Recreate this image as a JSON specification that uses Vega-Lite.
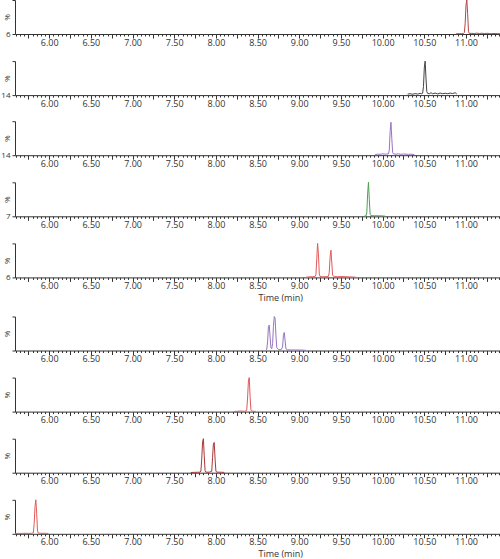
{
  "$schema": "https://vega.github.io/schema/vega-lite/v6.json",
  "padding": {"left": 0, "top": -2, "right": 0, "bottom": 0},
  "spacing": 12.1,
  "config": {
    "view": {"stroke": null},
    "axis": {"grid": false, "domainColor": "#333333", "tickColor": "#333333", "labelColor": "#333333", "labelFont": "Open Sans", "labelFontSize": 9, "titleFont": "Open Sans", "titleFontSize": 9, "titleFontWeight": "normal", "titleColor": "#333333", "domainWidth": 1, "tickWidth": 1},
    "axisX": {"tickCount": 116, "labelOverlap": false, "labelFlush": false, "labelPadding": 0, "titlePadding": 2.6, "titleAnchor": "middle", "titleAlign": "left"},
    "axisY": {"values": [0, 10, 20, 30, 40, 50, 60, 70, 80, 90, 100], "tickSize": 3, "labelPadding": 2, "labelOverlap": false, "labelFlush": false, "labelFontSize": {"condition": {"test": "datum.value == 0", "value": 8}, "value": 0}, "titleFontSize": 8, "titleX": -4, "titleY": 17, "titleAngle": -90}
  },
  "datasets": {
    "p1": [{"t":10.88,"v":0.5},{"t":10.92,"v":1},{"t":10.95,"v":0.8},{"t":10.97,"v":1.5},{"t":10.98,"v":4},{"t":10.99,"v":30},{"t":11.0,"v":85},{"t":11.01,"v":100},{"t":11.02,"v":60},{"t":11.03,"v":8},{"t":11.04,"v":1.5},{"t":11.07,"v":2},{"t":11.1,"v":1.2},{"t":11.13,"v":2.5},{"t":11.16,"v":1.5},{"t":11.19,"v":2.2},{"t":11.22,"v":1.4},{"t":11.25,"v":2},{"t":11.28,"v":1.5},{"t":11.31,"v":1},{"t":11.35,"v":1.5},{"t":11.38,"v":1},{"t":11.42,"v":0.8}],
    "p2": [{"t":10.3,"v":3},{"t":10.33,"v":4},{"t":10.36,"v":2.5},{"t":10.39,"v":4.5},{"t":10.42,"v":3},{"t":10.45,"v":5},{"t":10.47,"v":3.5},{"t":10.48,"v":6},{"t":10.49,"v":25},{"t":10.5,"v":80},{"t":10.51,"v":100},{"t":10.52,"v":50},{"t":10.53,"v":10},{"t":10.54,"v":5},{"t":10.56,"v":4},{"t":10.58,"v":7},{"t":10.6,"v":4},{"t":10.63,"v":6},{"t":10.66,"v":3.5},{"t":10.69,"v":6},{"t":10.72,"v":4},{"t":10.75,"v":5.5},{"t":10.78,"v":4},{"t":10.81,"v":6},{"t":10.84,"v":4.5},{"t":10.87,"v":7},{"t":10.89,"v":3}],
    "p3": [{"t":9.91,"v":2},{"t":9.94,"v":3},{"t":9.97,"v":2.5},{"t":10.0,"v":4},{"t":10.03,"v":3},{"t":10.05,"v":3.5},{"t":10.07,"v":4},{"t":10.08,"v":15},{"t":10.09,"v":70},{"t":10.1,"v":97},{"t":10.11,"v":50},{"t":10.12,"v":8},{"t":10.13,"v":4},{"t":10.16,"v":3},{"t":10.19,"v":4},{"t":10.22,"v":2.5},{"t":10.25,"v":3.5},{"t":10.28,"v":3},{"t":10.31,"v":2.5},{"t":10.34,"v":3},{"t":10.38,"v":2}],
    "p4": [{"t":9.78,"v":0.5},{"t":9.8,"v":1},{"t":9.81,"v":10},{"t":9.82,"v":65},{"t":9.83,"v":100},{"t":9.84,"v":50},{"t":9.85,"v":6},{"t":9.86,"v":2},{"t":9.9,"v":1.5},{"t":9.95,"v":1.5},{"t":10.0,"v":1},{"t":10.03,"v":0.5}],
    "p5": [{"t":9.08,"v":0.5},{"t":9.12,"v":1.5},{"t":9.16,"v":2},{"t":9.19,"v":2.5},{"t":9.2,"v":8},{"t":9.21,"v":55},{"t":9.22,"v":100},{"t":9.23,"v":70},{"t":9.24,"v":10},{"t":9.25,"v":2.5},{"t":9.28,"v":2},{"t":9.32,"v":2},{"t":9.35,"v":3},{"t":9.36,"v":15},{"t":9.37,"v":60},{"t":9.38,"v":80},{"t":9.39,"v":45},{"t":9.4,"v":6},{"t":9.42,"v":2.5},{"t":9.46,"v":2},{"t":9.5,"v":2.5},{"t":9.55,"v":2},{"t":9.6,"v":1.5},{"t":9.65,"v":1},{"t":9.68,"v":0.5}],
    "p6": [{"t":8.6,"v":1},{"t":8.61,"v":4},{"t":8.62,"v":25},{"t":8.63,"v":70},{"t":8.64,"v":75},{"t":8.65,"v":40},{"t":8.66,"v":8},{"t":8.67,"v":5},{"t":8.68,"v":20},{"t":8.69,"v":70},{"t":8.7,"v":100},{"t":8.71,"v":95},{"t":8.72,"v":45},{"t":8.73,"v":8},{"t":8.75,"v":3},{"t":8.78,"v":2},{"t":8.8,"v":10},{"t":8.81,"v":45},{"t":8.82,"v":53},{"t":8.83,"v":30},{"t":8.84,"v":5},{"t":8.86,"v":2},{"t":8.9,"v":1.5},{"t":8.95,"v":1.5},{"t":9.0,"v":1.5},{"t":9.05,"v":1},{"t":9.08,"v":0.5}],
    "p7": [{"t":8.22,"v":0.5},{"t":8.26,"v":1},{"t":8.3,"v":1.5},{"t":8.34,"v":1},{"t":8.36,"v":1.5},{"t":8.37,"v":5},{"t":8.38,"v":40},{"t":8.39,"v":90},{"t":8.4,"v":100},{"t":8.41,"v":45},{"t":8.42,"v":5},{"t":8.43,"v":1.5},{"t":8.45,"v":1},{"t":8.48,"v":0.5}],
    "p8": [{"t":7.7,"v":0.5},{"t":7.74,"v":1},{"t":7.78,"v":1.2},{"t":7.81,"v":1.5},{"t":7.82,"v":5},{"t":7.83,"v":40},{"t":7.84,"v":90},{"t":7.85,"v":100},{"t":7.86,"v":50},{"t":7.87,"v":6},{"t":7.88,"v":1.5},{"t":7.92,"v":1.5},{"t":7.95,"v":4},{"t":7.96,"v":45},{"t":7.97,"v":85},{"t":7.98,"v":89},{"t":7.99,"v":40},{"t":8.0,"v":5},{"t":8.01,"v":1.5},{"t":8.04,"v":1.5},{"t":8.07,"v":1.2},{"t":8.1,"v":0.8}],
    "p9": [{"t":5.59,"v":1},{"t":5.63,"v":1.2},{"t":5.67,"v":1},{"t":5.71,"v":1.5},{"t":5.75,"v":1.2},{"t":5.79,"v":1.5},{"t":5.81,"v":3},{"t":5.82,"v":30},{"t":5.83,"v":80},{"t":5.84,"v":100},{"t":5.85,"v":60},{"t":5.86,"v":8},{"t":5.87,"v":2},{"t":5.9,"v":1.5},{"t":5.94,"v":1.5},{"t":5.97,"v":1.2},{"t":5.99,"v":1}]
  },
  "vconcat": [
    {"width": 486, "height": 34, "data": {"name": "p1"}, "mark": {"type": "line", "color": "#b24848", "strokeWidth": 1},
     "encoding": {"x": {"field": "t", "type": "quantitative", "scale": {"domain": [5.59, 11.42], "nice": false, "zero": false}, "axis": {"title": null, "labelExpr": "abs(datum.value*2 - round(datum.value*2)) < 0.001 ? format(datum.value, '.2f') : ''", "tickSize": {"condition": {"test": "abs(datum.value*4 - round(datum.value*4)) < 0.001", "value": 4}, "value": 2}}},
                  "y": {"field": "v", "type": "quantitative", "scale": {"domain": [0, 100], "nice": false}, "axis": {"title": "%", "labelExpr": "datum.value == 0 ? '6' : ''"}}}},
    {"width": 486, "height": 34, "data": {"name": "p2"}, "mark": {"type": "line", "color": "#444444", "strokeWidth": 1},
     "encoding": {"x": {"field": "t", "type": "quantitative", "scale": {"domain": [5.59, 11.42], "nice": false, "zero": false}, "axis": {"title": null, "labelExpr": "abs(datum.value*2 - round(datum.value*2)) < 0.001 ? format(datum.value, '.2f') : ''", "tickSize": {"condition": {"test": "abs(datum.value*4 - round(datum.value*4)) < 0.001", "value": 4}, "value": 2}}},
                  "y": {"field": "v", "type": "quantitative", "scale": {"domain": [0, 100], "nice": false}, "axis": {"title": "%", "labelExpr": "datum.value == 0 ? '14' : ''"}}}},
    {"width": 486, "height": 34, "data": {"name": "p3"}, "mark": {"type": "line", "color": "#9b72c4", "strokeWidth": 1},
     "encoding": {"x": {"field": "t", "type": "quantitative", "scale": {"domain": [5.59, 11.42], "nice": false, "zero": false}, "axis": {"title": null, "labelExpr": "abs(datum.value*2 - round(datum.value*2)) < 0.001 ? format(datum.value, '.2f') : ''", "tickSize": {"condition": {"test": "abs(datum.value*4 - round(datum.value*4)) < 0.001", "value": 4}, "value": 2}}},
                  "y": {"field": "v", "type": "quantitative", "scale": {"domain": [0, 100], "nice": false}, "axis": {"title": "%", "labelExpr": "datum.value == 0 ? '14' : ''"}}}},
    {"width": 486, "height": 34, "data": {"name": "p4"}, "mark": {"type": "line", "color": "#4f9f55", "strokeWidth": 1},
     "encoding": {"x": {"field": "t", "type": "quantitative", "scale": {"domain": [5.59, 11.42], "nice": false, "zero": false}, "axis": {"title": null, "labelExpr": "abs(datum.value*2 - round(datum.value*2)) < 0.001 ? format(datum.value, '.2f') : ''", "tickSize": {"condition": {"test": "abs(datum.value*4 - round(datum.value*4)) < 0.001", "value": 4}, "value": 2}}},
                  "y": {"field": "v", "type": "quantitative", "scale": {"domain": [0, 100], "nice": false}, "axis": {"title": "%", "labelExpr": "datum.value == 0 ? '7' : ''"}}}},
    {"width": 486, "height": 34, "data": {"name": "p5"}, "mark": {"type": "line", "color": "#e05a5a", "strokeWidth": 1},
     "encoding": {"x": {"field": "t", "type": "quantitative", "scale": {"domain": [5.59, 11.42], "nice": false, "zero": false}, "axis": {"title": "Time (min)", "labelExpr": "abs(datum.value*2 - round(datum.value*2)) < 0.001 ? format(datum.value, '.2f') : ''", "tickSize": {"condition": {"test": "abs(datum.value*4 - round(datum.value*4)) < 0.001", "value": 4}, "value": 2}}},
                  "y": {"field": "v", "type": "quantitative", "scale": {"domain": [0, 100], "nice": false}, "axis": {"title": "%", "labelExpr": "datum.value == 0 ? '6' : ''"}}}},
    {"width": 486, "height": 34, "data": {"name": "p6"}, "mark": {"type": "line", "color": "#9775c2", "strokeWidth": 1},
     "encoding": {"x": {"field": "t", "type": "quantitative", "scale": {"domain": [5.59, 11.42], "nice": false, "zero": false}, "axis": {"title": null, "labelExpr": "abs(datum.value*2 - round(datum.value*2)) < 0.001 ? format(datum.value, '.2f') : ''", "tickSize": {"condition": {"test": "abs(datum.value*4 - round(datum.value*4)) < 0.001", "value": 4}, "value": 2}}},
                  "y": {"field": "v", "type": "quantitative", "scale": {"domain": [0, 100], "nice": false}, "axis": {"title": "%", "labelExpr": "''"}}}},
    {"width": 486, "height": 34, "data": {"name": "p7"}, "mark": {"type": "line", "color": "#e05a5a", "strokeWidth": 1},
     "encoding": {"x": {"field": "t", "type": "quantitative", "scale": {"domain": [5.59, 11.42], "nice": false, "zero": false}, "axis": {"title": null, "labelExpr": "abs(datum.value*2 - round(datum.value*2)) < 0.001 ? format(datum.value, '.2f') : ''", "tickSize": {"condition": {"test": "abs(datum.value*4 - round(datum.value*4)) < 0.001", "value": 4}, "value": 2}}},
                  "y": {"field": "v", "type": "quantitative", "scale": {"domain": [0, 100], "nice": false}, "axis": {"title": "%", "labelExpr": "''"}}}},
    {"width": 486, "height": 34, "data": {"name": "p8"}, "mark": {"type": "line", "color": "#a83838", "strokeWidth": 1},
     "encoding": {"x": {"field": "t", "type": "quantitative", "scale": {"domain": [5.59, 11.42], "nice": false, "zero": false}, "axis": {"title": null, "labelExpr": "abs(datum.value*2 - round(datum.value*2)) < 0.001 ? format(datum.value, '.2f') : ''", "tickSize": {"condition": {"test": "abs(datum.value*4 - round(datum.value*4)) < 0.001", "value": 4}, "value": 2}}},
                  "y": {"field": "v", "type": "quantitative", "scale": {"domain": [0, 100], "nice": false}, "axis": {"title": "%", "labelExpr": "''"}}}},
    {"width": 486, "height": 34, "data": {"name": "p9"}, "mark": {"type": "line", "color": "#e05a5a", "strokeWidth": 1},
     "encoding": {"x": {"field": "t", "type": "quantitative", "scale": {"domain": [5.59, 11.42], "nice": false, "zero": false}, "axis": {"title": "Time (min)", "labelExpr": "abs(datum.value*2 - round(datum.value*2)) < 0.001 ? format(datum.value, '.2f') : ''", "tickSize": {"condition": {"test": "abs(datum.value*4 - round(datum.value*4)) < 0.001", "value": 4}, "value": 2}}},
                  "y": {"field": "v", "type": "quantitative", "scale": {"domain": [0, 100], "nice": false}, "axis": {"title": "%", "labelExpr": "''"}}}}
  ]
}
